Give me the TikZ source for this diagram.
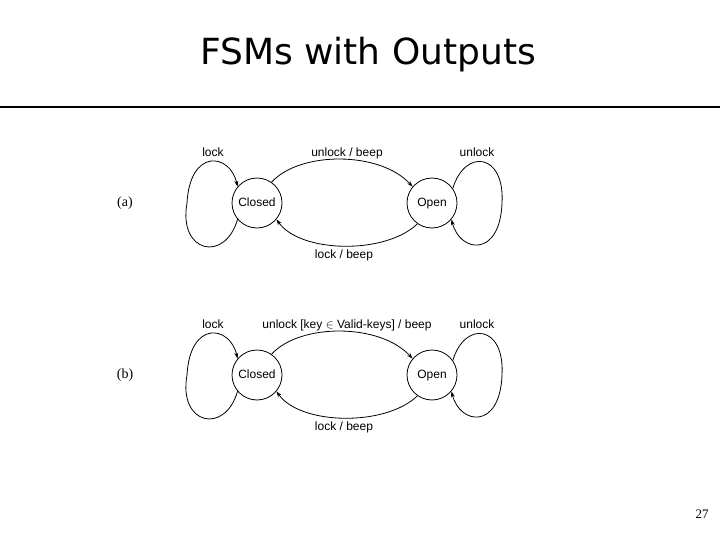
\documentclass[tikz,border=0pt]{standalone}
\usepackage{fontspec}
\setmainfont{Liberation Sans}
\newfontfamily\serifx{Liberation Serif}
\newfontfamily\titlef{DejaVu Sans}
\usetikzlibrary{arrows.meta}
\begin{document}
\begin{tikzpicture}[x=1pt,y=-1pt,
  st/.style={circle,draw,thick,minimum size=50pt,inner sep=0pt,font=\fontsize{12}{14}\selectfont,text height=1.6ex,text depth=0.3ex},
  lb/.style={font=\fontsize{12}{14}\selectfont,text height=1.6ex,text depth=0.4ex},
  ar/.style={thick,-{Stealth[length=6pt,width=4pt]}}]
\useasboundingbox (0,0) rectangle (720,540);
\node (title) at (368,55) {\titlef\fontsize{36}{40}\selectfont FSMs with Outputs};
\coordinate (r1) at (0,107); \coordinate (r2) at (720,107);
\draw[line width=2pt] (r1) -- (r2);
\node[font=\serifx\fontsize{13}{15}\selectfont] (pn) at (702,514) {27};
\foreach \n/\y/\lab/\top in {a/203/(a)/{unlock / beep},b/375/(b)/{unlock [key $\in$ Valid-keys] / beep}}{
  \node[font=\serifx\fontsize{14}{16}\selectfont] (\n lab) at (125,\y) {\lab};
  \node[st] (\n C) at (257,\y) {Closed};
  \node[st] (\n O) at (432,\y) {Open};
  \node[lb] (\n l1) at (213,\y-50) {lock};
  \node[lb] (\n l2) at (347,\y-50) {\top};
  \node[lb] (\n l3) at (477,\y-50) {unlock};
  \node[lb] (\n l4) at (344,\y+52) {lock / beep};
  \draw[ar] (\n C.55) .. controls (300,\y-52) and (380,\y-52) .. (\n O.140);
  \draw[ar] (\n O.-125) .. controls (385,\y+52) and (300,\y+50) .. (\n C.-40);
  \draw[ar] (\n C.-140) .. controls (225,\y+60) and (178,\y+50) .. (187,\y) .. controls (190,\y-55) and (230,\y-50) .. (\n C.140);
  \draw[ar] (\n O.35) .. controls (465,\y-55) and (505,\y-50) .. (502,\y) .. controls (500,\y+55) and (460,\y+50) .. (\n O.-40);
}
\end{tikzpicture}
\end{document}
